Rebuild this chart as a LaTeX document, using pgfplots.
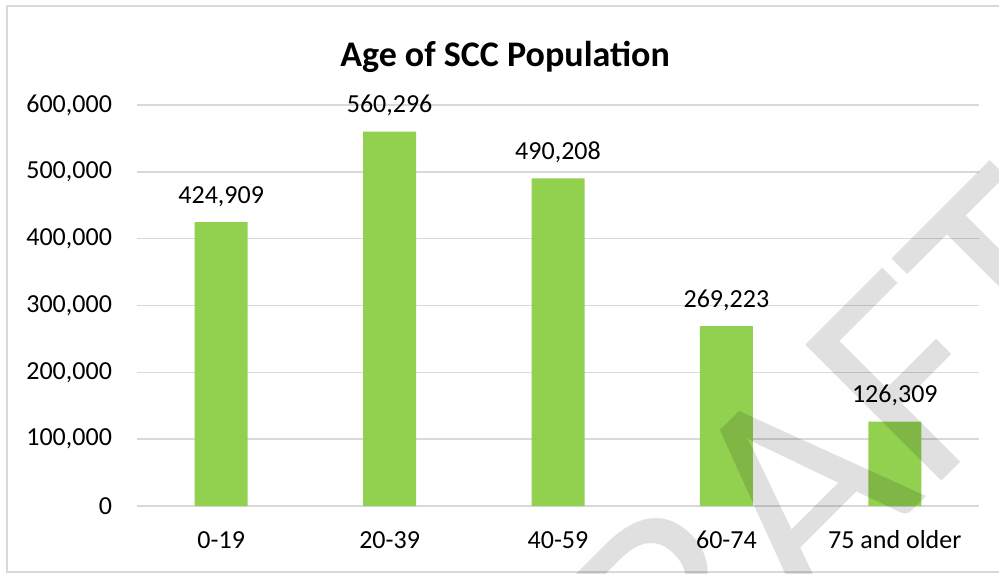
\documentclass[border=0pt]{standalone}
\usepackage{fontspec}
\setmainfont{Carlito}
\usepackage{pgfplots}
\pgfplotsset{compat=1.18}
\definecolor{barg}{HTML}{92D050}
\definecolor{gridc}{HTML}{D9D9D9}
\pgfkeys{/pgf/number format/.cd,fixed,precision=0,1000 sep={,},assume math mode=true}
\begin{document}
\begin{tikzpicture}
\useasboundingbox (0,0) rectangle (499.5pt,286.5pt);
\fill[white] (0,0) rectangle (499.5pt,286.5pt);
\draw[gridc, line width=0.75pt] (499.5pt,283.5pt) -- (3.5pt,283.5pt) -- (3.5pt,0.5pt) -- (499.5pt,0.5pt);
\begin{axis}[
  at={(68.5pt,33.5pt)}, anchor=south west,
  scale only axis, width=421pt, height=200.5pt,
  xmin=-0.5, xmax=4.5, ymin=0, ymax=600000,
  clip=false,
  ybar, bar width=26.5pt,
  axis line style={draw=none},
  ymajorgrids, grid style={gridc, line width=0.75pt},
  major tick length=0pt,
  xtick={0,1,2,3,4},
  xticklabels={0-19,20-39,40-59,60-74,75 and older},
  ytick={0,100000,200000,300000,400000,500000,600000},
  scaled y ticks=false,
  yticklabel={\pgfmathprintnumber[fixed,precision=0,1000 sep={,},assume math mode=true]{\tick}},
  tick label style={font=\fontsize{13}{15}\selectfont, text=black},
  yticklabel style={anchor=east, xshift=-9pt},
  xticklabel style={anchor=base, yshift=-21pt},
  nodes near coords={\pgfmathprintnumber[fixed,precision=0,1000 sep={,},assume math mode=true]{\pgfplotspointmeta}},
  every node near coord/.append style={anchor=base, yshift=9.5pt, font=\fontsize{13}{15}\selectfont, text=black},
]
\addplot[fill=barg, draw=none] coordinates {(0,424909) (1,560296) (2,490208) (3,269223) (4,126309)};
\end{axis}
\node[font=\bfseries\fontsize{18}{21}\selectfont, anchor=base] at (252.5pt,253pt) {Age of SCC Population};
\begin{scope}
\clip (0,0) rectangle (499.5pt,286.5pt);
\node[rotate=45, anchor=base west, inner sep=0pt, text=black, text opacity=0.12, font=\fontsize{150}{150}\selectfont] at (279.5pt,-145.5pt) {DRAFT};
\end{scope}
\end{tikzpicture}
\end{document}
